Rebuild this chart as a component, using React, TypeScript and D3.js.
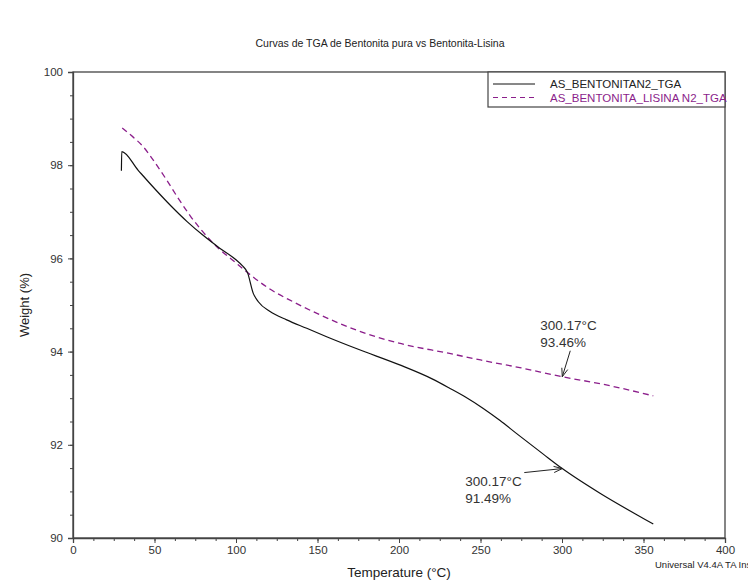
import React, { useEffect, useRef } from "react";
import * as d3 from "d3";

// AS_BENTONITAN2_TGA  [temperature °C, weight %]
const bentonitaTemp = [29.7, 29.9, 40, 50, 60, 70, 80, 90, 100, 104, 107, 110.6, 113.7, 120.9, 131.1, 143.4, 155.6, 175, 200, 220, 231.3, 241, 251.7, 262, 272.2, 288.5, 300.17, 323.3, 349.9, 356];
const bentonitaWeight = [97.88, 98.29, 97.89, 97.5, 97.13, 96.79, 96.49, 96.22, 95.97, 95.84, 95.7, 95.25, 95.07, 94.86, 94.68, 94.5, 94.32, 94.05, 93.72, 93.42, 93.21, 93.02, 92.78, 92.52, 92.24, 91.8, 91.49, 90.96, 90.42, 90.3];

// AS_BENTONITA_LISINA N2_TGA
const lisinaTemp = [30.2, 36, 43, 50, 57.5, 64, 71.8, 78, 84, 90, 98, 105.5, 112, 120, 135, 151.5, 174, 200, 231, 250, 275, 300.17, 325, 356];
const lisinaWeight = [98.8, 98.63, 98.4, 98.07, 97.68, 97.32, 96.92, 96.64, 96.4, 96.19, 95.96, 95.74, 95.56, 95.36, 95.07, 94.79, 94.46, 94.18, 93.96, 93.82, 93.65, 93.46, 93.3, 93.05];

const seriesNames = ["AS_BENTONITAN2_TGA", "AS_BENTONITA_LISINA N2_TGA"];
const xTicks = [0, 50, 100, 150, 200, 250, 300, 350, 400];
const yTicks = [90, 92, 94, 96, 98, 100];

const PURPLE = "#8b1e8b";
const FONT = "Arial, 'Liberation Sans', sans-serif";

const App = () => {
  const svgRef = useRef(null);

  useEffect(() => {
    const svg = d3.select(svgRef.current);
    svg.selectAll("*").remove();

    const width = 748;
    const height = 582;
    const margin = { top: 72, right: 23, bottom: 44, left: 73 };

    const x = d3.scaleLinear().domain([0, 400]).range([margin.left, width - margin.right]);
    const y = d3.scaleLinear().domain([90, 100]).range([height - margin.bottom, margin.top]);

    // title
    svg.append("text")
      .attr("x", 380).attr("y", 47)
      .attr("text-anchor", "middle")
      .attr("font-family", FONT).attr("font-size", 10.5)
      .attr("fill", "#222")
      .text("Curvas de TGA de Bentonita pura vs Bentonita-Lisina");

    // frame
    svg.append("rect")
      .attr("x", x(0)).attr("y", y(100))
      .attr("width", x(400) - x(0)).attr("height", y(90) - y(100))
      .attr("fill", "none").attr("stroke", "#444").attr("stroke-width", 1.3);

    // minor ticks
    const minorX = d3.range(0, 400.1, 12.5);
    const minorY = d3.range(90, 100.01, 0.5);
    svg.append("g")
      .attr("transform", `translate(0,${y(90)})`)
      .call(d3.axisBottom(x).tickValues(minorX).tickSize(3).tickFormat(() => ""))
      .call(g => g.select(".domain").remove());
    svg.append("g")
      .attr("transform", `translate(${x(0)},0)`)
      .call(d3.axisLeft(y).tickValues(minorY).tickSize(3).tickFormat(() => ""))
      .call(g => g.select(".domain").remove());

    // major axes
    const xAxis = svg.append("g")
      .attr("transform", `translate(0,${y(90)})`)
      .call(d3.axisBottom(x).tickValues(xTicks).tickSize(5).tickPadding(3).tickFormat(d3.format("d")));
    const yAxis = svg.append("g")
      .attr("transform", `translate(${x(0)},0)`)
      .call(d3.axisLeft(y).tickValues(yTicks).tickSize(5).tickPadding(5).tickFormat(d3.format("d")));

    [xAxis, yAxis].forEach(g => {
      g.select(".domain").attr("stroke", "#444").attr("stroke-width", 1.3);
      g.selectAll("text").attr("font-family", FONT).attr("font-size", 11.5).attr("fill", "#333");
    });
    svg.selectAll(".tick line").attr("stroke", "#444");

    // axis titles
    svg.append("text")
      .attr("x", (x(0) + x(400)) / 2).attr("y", 577)
      .attr("text-anchor", "middle")
      .attr("font-family", FONT).attr("font-size", 13.5).attr("fill", "#222")
      .text("Temperature (°C)");
    svg.append("text")
      .attr("transform", `translate(29,${(y(90) + y(100)) / 2}) rotate(-90)`)
      .attr("text-anchor", "middle")
      .attr("font-family", FONT).attr("font-size", 13).attr("fill", "#222")
      .text("Weight (%)");
    // software stamp, cut by the right edge as in the original export
    svg.append("text")
      .attr("x", 655).attr("y", 568)
      .attr("font-family", FONT).attr("font-size", 9.5).attr("fill", "#222")
      .text("Universal V4.4A TA Instruments");

    // curves
    const line = d3.line()
      .x(d => x(d[0]))
      .y(d => y(d[1]))
      .curve(d3.curveMonotoneX);

    const bentonita = bentonitaTemp.map((t, i) => [t, bentonitaWeight[i]]);
    const lisina = lisinaTemp.map((t, i) => [t, lisinaWeight[i]]);

    svg.append("path")
      .datum(lisina)
      .attr("fill", "none")
      .attr("stroke", PURPLE)
      .attr("stroke-width", 1.3)
      .attr("stroke-dasharray", "6,4")
      .attr("d", line);

    svg.append("path")
      .datum(bentonita)
      .attr("fill", "none")
      .attr("stroke", "#111")
      .attr("stroke-width", 1.2)
      .attr("d", line);

    // annotations
    const arrow = (tip, dx, dy) => {
      const tail = [tip[0] + dx, tip[1] + dy];
      const ang = Math.atan2(tail[1] - tip[1], tail[0] - tip[0]);
      const len = 9, spread = 0.35;
      const a1 = [tip[0] + len * Math.cos(ang + spread), tip[1] + len * Math.sin(ang + spread)];
      const a2 = [tip[0] + len * Math.cos(ang - spread), tip[1] + len * Math.sin(ang - spread)];
      svg.append("path")
        .attr("d", `M${tail[0]},${tail[1]}L${tip[0]},${tip[1]}M${a1[0]},${a1[1]}L${tip[0]},${tip[1]}L${a2[0]},${a2[1]}`)
        .attr("fill", "none").attr("stroke", "#222").attr("stroke-width", 1);
    };
    const label = (lx, ly, lines) => {
      lines.forEach((s, i) => {
        svg.append("text")
          .attr("x", lx).attr("y", ly + i * 17)
          .attr("font-family", FONT).attr("font-size", 13.5).attr("fill", "#333")
          .text(s);
      });
    };

    const tipL = [x(300.17), y(93.46)];
    arrow(tipL, 8, -26);
    label(tipL[0] - 22, tipL[1] - 47, ["300.17°C", "93.46%"]);

    const tipB = [x(300.17), y(91.49)];
    arrow(tipB, -38, 4);
    label(tipB[0] - 97, tipB[1] + 17, ["300.17°C", "91.49%"]);

    // legend
    const lg = svg.append("g");
    lg.append("rect")
      .attr("x", 488).attr("y", y(100))
      .attr("width", x(400) - 488).attr("height", 35)
      .attr("fill", "white").attr("stroke", "#444").attr("stroke-width", 1.2);
    const colors = ["#111", PURPLE];
    const dashes = [null, "5,4"];
    seriesNames.forEach((name, i) => {
      const by = 88 + i * 13.5;
      lg.append("line")
        .attr("x1", 493).attr("x2", 535)
        .attr("y1", by - 4).attr("y2", by - 4)
        .attr("stroke", colors[i]).attr("stroke-width", 1)
        .attr("stroke-dasharray", dashes[i]);
      lg.append("text")
        .attr("x", 550).attr("y", by)
        .attr("font-family", FONT).attr("font-size", 11.5)
        .attr("fill", colors[i] === "#111" ? "#222" : PURPLE)
        .text(name);
    });
  }, []);

  return (
    <svg
      ref={svgRef}
      width={748}
      height={582}
      style={{ position: "absolute", left: 0, top: 0, background: "white", overflow: "hidden" }}
    />
  );
};

export default App;
